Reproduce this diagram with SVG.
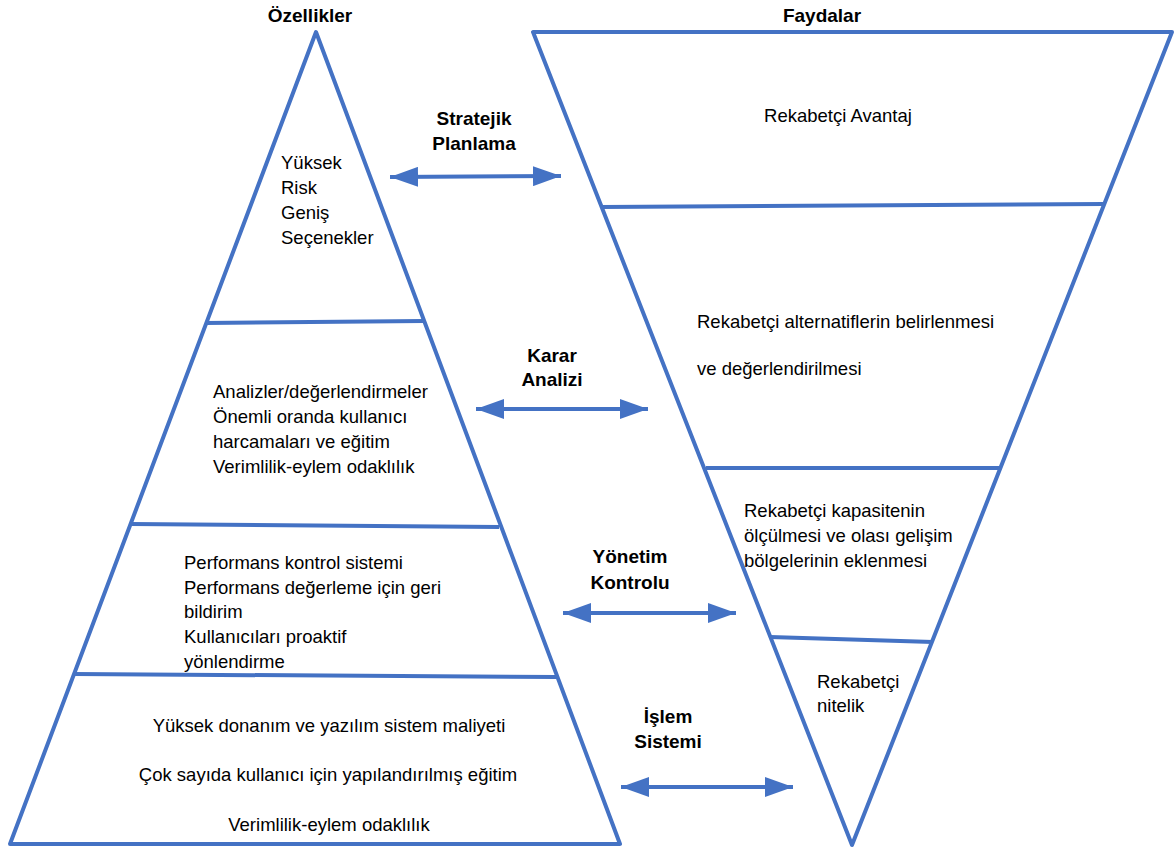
<svg xmlns="http://www.w3.org/2000/svg" width="1175" height="850" viewBox="0 0 1175 850">
  <style>
    .shape { fill: none; stroke: #4472C4; stroke-width: 4; stroke-linejoin: round; }
    .div { stroke: #4472C4; stroke-width: 4; }
    .link { stroke: #4472C4; stroke-width: 4; marker-start: url(#head); marker-end: url(#head); }
    text { font-family: "Liberation Sans", Arial, sans-serif; font-size: 18.5px; fill: #000; }
    .b { font-weight: bold; font-size: 19px; text-anchor: middle; }
    .c { text-anchor: middle; }
  </style>
  <defs>
    <marker id="head" markerUnits="userSpaceOnUse" markerWidth="30" markerHeight="20" refX="28" refY="10" orient="auto-start-reverse">
      <path d="M0,0 L28,10 L0,20 Z" fill="#4472C4"/>
    </marker>
  </defs>
  <rect width="1175" height="850" fill="#fff"/>

  <!-- titles -->
  <text class="b" x="310" y="22">Özellikler</text>
  <text class="b" x="822" y="22">Faydalar</text>

  <!-- left pyramid: characteristics -->
  <g id="features">
    <path class="shape" d="M316,32 L620,844 L10,844 Z"/>
    <line class="div" x1="205" y1="323" x2="424" y2="321"/>
    <line class="div" x1="131" y1="524" x2="499" y2="527"/>
    <line class="div" x1="74" y1="674" x2="556" y2="677"/>
  </g>
  <g id="feature-strategic">
    <text x="281" y="169">Yüksek</text>
    <text x="281" y="194">Risk</text>
    <text x="281" y="219">Geniş</text>
    <text x="281" y="244">Seçenekler</text>
  </g>
  <g id="feature-decision">
    <text x="213" y="398">Analizler/değerlendirmeler</text>
    <text x="213" y="423">Önemli oranda kullanıcı</text>
    <text x="213" y="448">harcamaları ve eğitim</text>
    <text x="213" y="473">Verimlilik-eylem odaklılık</text>
  </g>
  <g id="feature-control">
    <text x="184" y="569">Performans kontrol sistemi</text>
    <text x="184" y="594">Performans değerleme için geri</text>
    <text x="184" y="618">bildirim</text>
    <text x="184" y="643">Kullanıcıları proaktif</text>
    <text x="184" y="668">yönlendirme</text>
  </g>
  <g id="feature-transaction">
    <text class="c" x="329" y="732">Yüksek donanım ve yazılım sistem maliyeti</text>
    <text class="c" x="328" y="781">Çok sayıda kullanıcı için yapılandırılmış eğitim</text>
    <text class="c" x="329" y="831">Verimlilik-eylem odaklılık</text>
  </g>

  <!-- right inverted pyramid: benefits -->
  <g id="benefits">
    <path class="shape" d="M533,32 L1172,32 L852,845 Z"/>
    <line class="div" x1="601" y1="207" x2="1104" y2="204"/>
    <line class="div" x1="706" y1="468" x2="1000" y2="468"/>
    <line class="div" x1="770" y1="637" x2="933" y2="642"/>
  </g>
  <g id="benefit-strategic">
    <text class="c" x="838" y="122">Rekabetçi Avantaj</text>
  </g>
  <g id="benefit-decision">
    <text x="697" y="328">Rekabetçi alternatiflerin belirlenmesi</text>
    <text x="697" y="375">ve değerlendirilmesi</text>
  </g>
  <g id="benefit-control">
    <text x="744" y="517">Rekabetçi kapasitenin</text>
    <text x="744" y="542">ölçülmesi ve olası gelişim</text>
    <text x="744" y="567">bölgelerinin eklenmesi</text>
  </g>
  <g id="benefit-transaction">
    <text x="817" y="688">Rekabetçi</text>
    <text x="817" y="712">nitelik</text>
  </g>

  <!-- level labels -->
  <g id="labels">
    <text class="b" x="474" y="125">Stratejik</text>
    <text class="b" x="474" y="150">Planlama</text>
    <text class="b" x="552" y="362">Karar</text>
    <text class="b" x="552" y="386">Analizi</text>
    <text class="b" x="630" y="563">Yönetim</text>
    <text class="b" x="630" y="589">Kontrolu</text>
    <text class="b" x="668" y="723">İşlem</text>
    <text class="b" x="668" y="748">Sistemi</text>
  </g>

  <!-- two-way connectors between levels -->
  <g id="connectors">
    <line class="link" x1="390" y1="177" x2="561" y2="176"/>
    <line class="link" x1="476" y1="409" x2="648" y2="409"/>
    <line class="link" x1="563" y1="613" x2="736" y2="613"/>
    <line class="link" x1="621" y1="787" x2="793" y2="787"/>
  </g>
</svg>
